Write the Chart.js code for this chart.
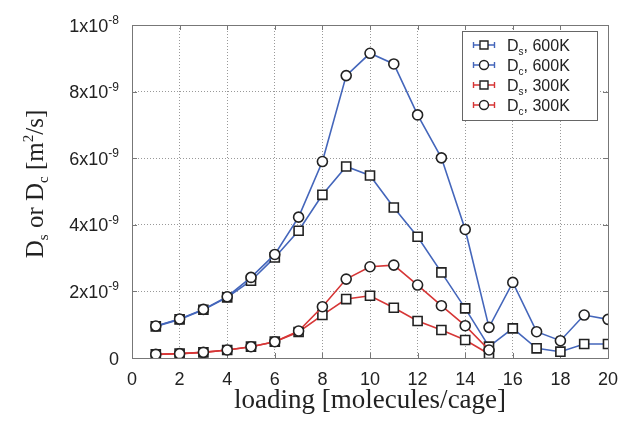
<!DOCTYPE html>
<html>
<head>
<meta charset="utf-8">
<script src="https://cdn.jsdelivr.net/npm/chart.js@4/dist/chart.umd.min.js"></script>
<style>
  html, body { margin: 0; padding: 0; background: #fff; }
  #wrap { width: 624px; height: 422px; }
</style>
</head>
<body>
<div id="wrap"><canvas id="chart" width="624" height="422"></canvas></div>
<script>
// loading in molecules/cage, diffusivities in units of 1e-9 m^2/s
const loading = [1, 2, 3, 4, 5, 6, 7, 8, 9, 10, 11, 12, 13, 14, 15, 16, 17, 18, 19, 20];
const ds600 = [0.95, 1.16, 1.45, 1.82, 2.32, 3.02, 3.82, 4.9, 5.75, 5.48, 4.52, 3.64, 2.57, 1.49, 0.34, 0.89, 0.29, 0.19, 0.42, 0.42];
const dc600 = [0.96, 1.17, 1.46, 1.84, 2.42, 3.11, 4.23, 5.9, 8.48, 9.15, 8.83, 7.3, 6.01, 3.86, 0.92, 2.27, 0.79, 0.52, 1.29, 1.16];
const ds300 = [0.11, 0.13, 0.17, 0.24, 0.34, 0.49, 0.78, 1.29, 1.77, 1.87, 1.51, 1.11, 0.84, 0.54, 0.12];
const dc300 = [0.11, 0.13, 0.17, 0.24, 0.34, 0.49, 0.81, 1.54, 2.37, 2.74, 2.79, 2.19, 1.57, 0.97, 0.24];

const yTicks = [0, 2, 4, 6, 8, 10];
const yTickMantissa = ['0', '2x10', '4x10', '6x10', '8x10', '1x10'];
const yTickExponent = ['', '-9', '-9', '-9', '-9', '-8'];

const legendItems = [
  { sub: 's', temp: '600K', color: '#4466bb', marker: 'rect' },
  { sub: 'c', temp: '600K', color: '#4466bb', marker: 'circle' },
  { sub: 's', temp: '300K', color: '#d63636', marker: 'rect' },
  { sub: 'c', temp: '300K', color: '#d63636', marker: 'circle' }
];

const SANS = '"Liberation Sans", Arial, sans-serif';
const SERIF = '"Liberation Serif", "Times New Roman", serif';

function points(values) {
  return values.map((v, i) => ({ x: loading[i], y: v }));
}

function makeDataset(label, values, color, marker, order) {
  return {
    label,
    data: points(values),
    borderColor: color,
    borderWidth: 1.6,
    pointStyle: marker,
    pointRadius: marker === 'rect' ? 6.4 : 5,
    pointBackgroundColor: '#fff',
    pointBorderColor: '#222',
    pointBorderWidth: 1.6,
    tension: 0,
    fill: false,
    order
  };
}

function drawMarker(ctx, marker, x, y) {
  ctx.save();
  ctx.fillStyle = '#fff';
  ctx.strokeStyle = '#222';
  ctx.lineWidth = 1.4;
  ctx.beginPath();
  if (marker === 'rect') {
    ctx.rect(x - 4, y - 4, 8, 8);
  } else {
    ctx.arc(x, y, 4.5, 0, Math.PI * 2);
  }
  ctx.fill();
  ctx.stroke();
  ctx.restore();
}

const decorations = {
  id: 'decorations',
  beforeDatasetsDraw(chart) {
    const { ctx, chartArea } = chart;
    const { left, right, top, bottom } = chartArea;
    ctx.save();
    ctx.strokeStyle = '#777';
    ctx.lineWidth = 1;
    ctx.strokeRect(left + 0.5, top + 0.5, right - left, bottom - top);
    // small inward tick marks like the original
    ctx.beginPath();
    chart.scales.x.ticks.forEach(t => {
      const px = Math.round(chart.scales.x.getPixelForValue(t.value)) + 0.5;
      ctx.moveTo(px, bottom); ctx.lineTo(px, bottom - 5);
      ctx.moveTo(px, top); ctx.lineTo(px, top + 5);
    });
    chart.scales.y.ticks.forEach(t => {
      const py = Math.round(chart.scales.y.getPixelForValue(t.value)) + 0.5;
      ctx.moveTo(left, py); ctx.lineTo(left + 5, py);
      ctx.moveTo(right, py); ctx.lineTo(right - 5, py);
    });
    ctx.stroke();
    ctx.restore();
  },
  afterDraw(chart) {
    const { ctx } = chart;
    const yScale = chart.scales.y;

    // y tick labels with exponents
    ctx.save();
    ctx.fillStyle = '#222';
    ctx.textBaseline = 'alphabetic';
    yTicks.forEach((v, i) => {
      const py = yScale.getPixelForValue(v);
      const right = 119;
      ctx.font = '12px ' + SANS;
      const expW = ctx.measureText(yTickExponent[i]).width;
      ctx.textAlign = 'left';
      if (yTickExponent[i]) ctx.fillText(yTickExponent[i], right - expW, py - 1);
      ctx.font = '18px ' + SANS;
      ctx.textAlign = 'right';
      ctx.fillText(yTickMantissa[i], right - expW, py + 6.5);
    });
    ctx.restore();

    // y axis title: Ds or Dc [m^2/s]
    ctx.save();
    ctx.translate(43, 184);
    ctx.rotate(-Math.PI / 2);
    ctx.fillStyle = '#222';
    const parts = [
      { t: 'D', size: 25, dy: 0 },
      { t: 's', size: 15, dy: 5 },
      { t: ' or D', size: 25, dy: 0 },
      { t: 'c', size: 15, dy: 5 },
      { t: ' [m', size: 25, dy: 0 },
      { t: '2', size: 15, dy: -10 },
      { t: '/s]', size: 25, dy: 0 }
    ];
    let total = 0;
    parts.forEach(p => { ctx.font = p.size + 'px ' + SERIF; p.w = ctx.measureText(p.t).width; total += p.w; });
    let cx = -total / 2;
    ctx.textAlign = 'left';
    ctx.textBaseline = 'alphabetic';
    parts.forEach(p => {
      ctx.font = p.size + 'px ' + SERIF;
      ctx.fillText(p.t, cx, p.dy);
      cx += p.w;
    });
    ctx.restore();

    // legend
    ctx.save();
    ctx.fillStyle = '#fff';
    ctx.fillRect(462, 31, 135, 89);
    ctx.strokeStyle = '#666';
    ctx.lineWidth = 1;
    ctx.strokeRect(462.5, 31.5, 135, 89);
    legendItems.forEach((item, i) => {
      const ly = 45 + i * 20;
      ctx.strokeStyle = item.color;
      ctx.lineWidth = 1.4;
      ctx.beginPath();
      ctx.moveTo(473, ly); ctx.lineTo(495, ly);
      ctx.moveTo(473.5, ly - 3); ctx.lineTo(473.5, ly + 3);
      ctx.moveTo(494.5, ly - 3); ctx.lineTo(494.5, ly + 3);
      ctx.stroke();
      drawMarker(ctx, item.marker, 484, ly);
      ctx.fillStyle = '#222';
      ctx.textAlign = 'left';
      ctx.textBaseline = 'alphabetic';
      let tx = 507;
      ctx.font = '16px ' + SANS;
      ctx.fillText('D', tx, ly + 6);
      tx += ctx.measureText('D').width;
      ctx.font = '10px ' + SANS;
      ctx.fillText(item.sub, tx, ly + 10);
      tx += ctx.measureText(item.sub).width;
      ctx.font = '16px ' + SANS;
      ctx.fillText(', ' + item.temp, tx, ly + 6);
    });
    ctx.restore();
  }
};

new Chart(document.getElementById('chart'), {
  type: 'line',
  data: {
    datasets: [
      makeDataset('Ds, 600K', ds600, '#4466bb', 'rect', 4),
      makeDataset('Dc, 600K', dc600, '#4466bb', 'circle', 3),
      makeDataset('Ds, 300K', ds300, '#d63636', 'rect', 2),
      makeDataset('Dc, 300K', dc300, '#d63636', 'circle', 1)
    ]
  },
  options: {
    responsive: false,
    animation: false,
    layout: { padding: { top: 25, right: 16, left: 0, bottom: 0 } },
    plugins: {
      legend: { display: false },
      tooltip: { enabled: false }
    },
    scales: {
      x: {
        type: 'linear',
        min: 0,
        max: 20,
        afterFit(scale) {
          scale.height = 64;
          scale.paddingLeft = 0;
          scale.paddingRight = 0;
        },
        ticks: {
          stepSize: 2,
          color: '#222',
          padding: 11,
          font: { family: SANS, size: 18 }
        },
        grid: { color: '#999', drawTicks: false },
        border: { display: false, dash: [1, 2] },
        title: {
          display: true,
          text: 'loading [molecules/cage]',
          color: '#222',
          font: { family: SERIF, size: 27 },
          padding: { top: 0, bottom: 5 }
        }
      },
      y: {
        min: 0,
        max: 10,
        afterFit(scale) { scale.width = 132; },
        ticks: { stepSize: 2, display: false },
        grid: { color: '#999', drawTicks: false },
        border: { display: false, dash: [1, 2] }
      }
    }
  },
  plugins: [decorations]
});
</script>
</body>
</html>
